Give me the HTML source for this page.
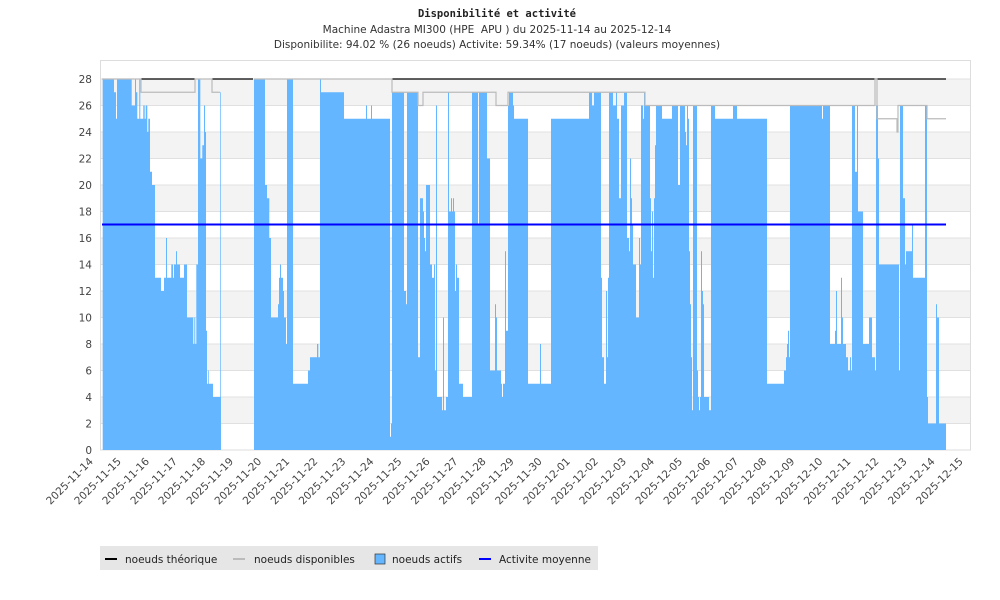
<!DOCTYPE html>
<html><head><meta charset="utf-8"><style>
body{margin:0;background:#fff;}
svg{display:block;font-family:"DejaVu Sans","Liberation Sans",sans-serif;}
</style></head><body>
<svg id="s" width="1000" height="600" xmlns="http://www.w3.org/2000/svg">
<text x="497" y="17" text-anchor="middle" font-family="DejaVu Sans Mono, monospace" font-weight="bold" font-size="10.5" fill="#222">Disponibilité et activité</text>
<text x="497" y="33" text-anchor="middle" font-size="10.5" fill="#333">Machine Adastra MI300 (HPE &#160;APU ) du 2025-11-14 au 2025-12-14</text>
<text x="497" y="48" text-anchor="middle" font-size="10.5" fill="#333">Disponibilite: 94.02 % (26 noeuds) Activite: 59.34% (17 noeuds) (valeurs moyennes)</text>
<g id="bands"></g>
<rect x="100.5" y="60.5" width="870" height="389.5" fill="none" stroke="#ddd"/>
<path id="act" fill="#63b6ff" stroke="none"/>
<g id="theo" stroke="#000" stroke-width="1.2"></g>
<path id="avail" fill="none" stroke="#bbb" stroke-width="1.2"/>
<line x1="102" x2="946" y1="224.5" y2="224.5" stroke="#0000ff" stroke-width="2"/>
<g id="yl" font-size="10.5" fill="#444" text-anchor="end"></g>
<g id="xl" font-size="10.5" fill="#444" text-anchor="end"></g>
<rect x="100" y="546" width="498" height="24" fill="#e6e6e6"/>
<line x1="105" x2="117" y1="559" y2="559" stroke="#000" stroke-width="2"/>
<text x="125" y="563" font-size="10.5" fill="#222">noeuds théorique</text>
<line x1="233" x2="245" y1="559" y2="559" stroke="#bbb" stroke-width="2"/>
<text x="254" y="563" font-size="10.5" fill="#222">noeuds disponibles</text>
<rect x="375" y="554" width="10" height="10" fill="#63b6ff" stroke="#333" stroke-width="0.7"/>
<text x="392" y="563" font-size="10.5" fill="#222">noeuds actifs</text>
<line x1="479" x2="491" y1="559" y2="559" stroke="#0000ff" stroke-width="2"/>
<text x="499" y="563" font-size="10.5" fill="#222">Activite moyenne</text>
</svg>
<script>
var NS="http://www.w3.org/2000/svg";
function Y(v){return 450-v*13.25;}
function el(p,t,a,txt){var e=document.createElementNS(NS,t);for(var k in a)e.setAttribute(k,a[k]);if(txt)e.textContent=txt;document.getElementById(p).appendChild(e);return e;}
for(var v=0;v<=28;v+=2){
 if(v<28 && (v/2)%2==1) el("bands","rect",{x:101,y:Y(v+2),width:869,height:26.5,fill:"#f3f3f3"});
 if(v>0) el("bands","line",{x1:101,x2:970,y1:Y(v),y2:Y(v),stroke:"#e0e0e0","stroke-width":1});
 el("yl","text",{x:92,y:Y(v)+4},""+v);
}
var days=["2025-11-14","2025-11-15","2025-11-16","2025-11-17","2025-11-18","2025-11-19","2025-11-20","2025-11-21","2025-11-22","2025-11-23","2025-11-24","2025-11-25","2025-11-26","2025-11-27","2025-11-28","2025-11-29","2025-11-30","2025-12-01","2025-12-02","2025-12-03","2025-12-04","2025-12-05","2025-12-06","2025-12-07","2025-12-08","2025-12-09","2025-12-10","2025-12-11","2025-12-12","2025-12-13","2025-12-14","2025-12-15"];
for(var i=0;i<days.length;i++){var x=100.7+i*28.06;el("xl","text",{x:0,y:0,transform:"translate("+(x-7)+",462) rotate(-45)"},days[i]);}
var A=[102.7,28,114,27,116,25,117,28,131.7,26,135,28,136,27,137.3,25,139.3,28,140.3,25,143.3,26,144.7,25,145.7,26,147.3,24,148.3,25,150,21,152,20,155,13,161,12,164,13,166,16,167,13,171.3,14,173,13,174,14,176,15,177,14,180,13,184,14,187,10,193.3,8,194.3,10,195.3,8,196.3,14,198,28,200.3,22,202.3,23,204,26,205,24,206,9,207,5,208.3,6,209,5,213,4,220.3,27,221,0,
254,28,265,20,267,19,269.3,16,271,10,278,11,279,13,280,14,281,13,283,12,284,10,286,8,287,28,293,5,308,6,310,7,317,8,318.3,7,
320,28,321,27,344,25,366,26,367,25,371,26,372,25,390,1,391,2,392,27,404,12,406,11,407,27,418,7,420,19,423,18,424,16,425,15,426,20,430,14,432,13,434,14,435,6,436,26,437,4,442,3,443,10,444,3,446,4,448,27,449,18,451,19,452,18,453,19,454,18,455,12,456,14,457,13,459,5,463,4,472,27,478,17,479,27,487,22,490,6,495,11,496,10,497,6,501,5,502,4,503,5,505,15,506,9,508,26,509,27,513,26,514,25,528,5,540,8,541,5,
551,25,589,27,592,26,594,27,601,13,602,7,604,5,606,12,607,7,608,13,609,27,613,26,616,27,617,25,619,19,621,26,624,27,627,16,629,15,630,22,631,19,632,17,633,14,636,10,639,16,640,14,641,26,643,25,644,27,645,26,650,19,651,15,652,18,653,13,654,19,655,23,656,26,662,25,672,26,678,20,680,26,685,24,686,23,687,26,688,25,689,15,690,11,691,7,692,3,693,26,697,6,698,4,699,3,700,4,701,15,702,12,703,11,704,4,709,3,711,26,715,25,733,26,737,25,
767,5,784,6,786,7,787,8,788,9,789,7,790,26,822,25,823,26,830,8,835,9,836,12,837,8,841,13,842,10,843,8,846,7,848,6,850,7,851,6,852,26,855,21,857,26,858,18,863,8,869,10,872,7,875,6,876,26,878,22,879,14,899,6,900,26,903,19,905,14,906,15,912,17,913,13,925,26,927,4,928,2,936,11,937,10,939,2,946,0];
var d="M102.7,450",pv=0;
for(var i=0;i<A.length;i+=2){d+=" L"+A[i]+","+Y(pv)+" L"+A[i]+","+Y(A[i+1]);pv=A[i+1];}
d+=" L946,450 Z";document.getElementById("act").setAttribute("d",d);
[[141,195],[212,253],[392,946]].forEach(function(s){el("theo","line",{x1:s[0],x2:s[1],y1:Y(28),y2:Y(28)});});
var G=[[102,28],[141,27],[195,28],[212,27],[220,27]],G2=[[254,28],[392,27],[418,26],[423,27],[496,26],[508,27],[645,26],[875,28],[877,25],[897,24],[898,26],[927,25],[946,25]];
function gp(arr){var s="M"+arr[0][0]+","+Y(arr[0][1]),pv=arr[0][1];for(var i=1;i<arr.length;i++){s+=" L"+arr[i][0]+","+Y(pv)+" L"+arr[i][0]+","+Y(arr[i][1]);pv=arr[i][1];}return s;}
document.getElementById("avail").setAttribute("d",gp(G)+" "+gp(G2));
</script>
</body></html>
